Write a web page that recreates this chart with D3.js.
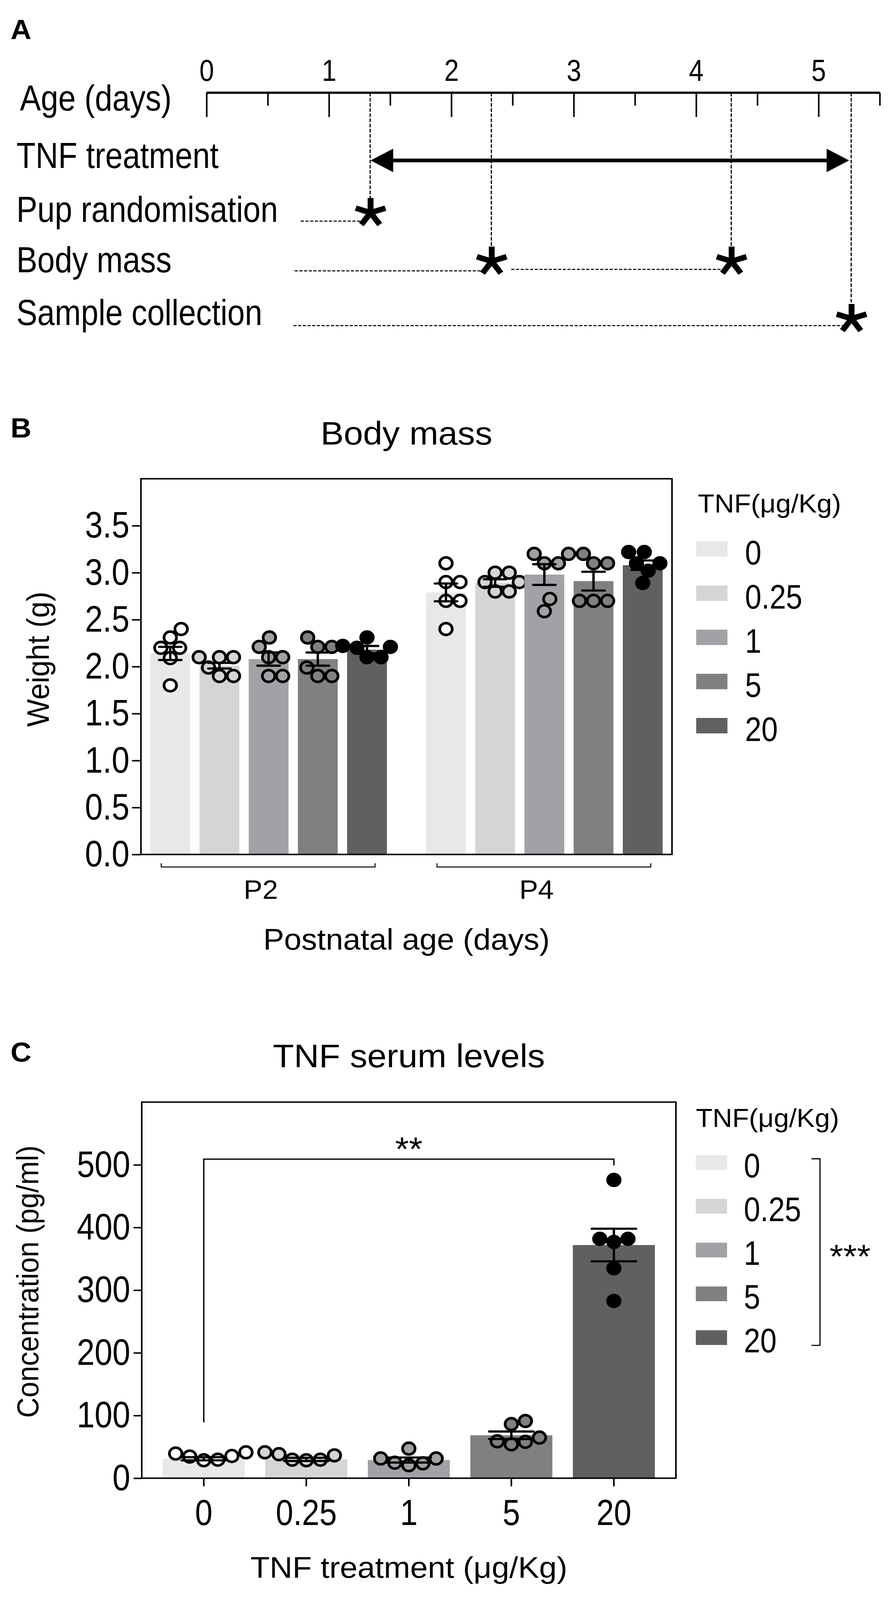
<!DOCTYPE html>
<html>
<head>
<meta charset="utf-8">
<script src="https://cdn.jsdelivr.net/npm/d3@7"></script>
<style>
  html, body { margin: 0; padding: 0; height: 100%; overflow: hidden; background: #fff; }
  #fig { display: block; width: 100vw; height: 100vh; }
</style>
</head>
<body>
<svg id="fig" viewBox="0 0 2287 4348" preserveAspectRatio="none"></svg>
<script>
// ---------- data: panel A (timeline, in days) ----------
const ageTicks = [0, 1, 2, 3, 4, 5];
const ageHalfTicks = [0.5, 1.5, 2.5, 3.5, 4.5, 5.5];
const timelineLabels = ["TNF treatment", "Pup randomisation", "Body mass", "Sample collection"];
const treatmentSpan = [1.34, 5.25];
const randomisationDays = [1.34];
const bodyMassDays = [2.33, 4.29];
const sampleDays = [5.27];
const leaderStartDays = [0.77, 0.72, 0.71];

// ---------- data: panel B (body mass, g) ----------
const doses = ["0", "0.25", "1", "5", "20"];
const ages = ["P2", "P4"];
const weightMeanP2 = [2.14, 2.01, 2.08, 2.08, 2.18];
const weightSemP2 = [0.07, 0.03, 0.07, 0.07, 0.04];
const weightMeanP4 = [2.79, 2.89, 2.98, 2.91, 3.08];
const weightSemP4 = [0.095, 0.04, 0.11, 0.10, 0.05];
const weightPointsP2 = [
  [2.40, 2.31, 2.20, 2.20, 2.09, 1.80],
  [2.10, 2.10, 2.10, 1.99, 1.90, 1.90],
  [2.31, 2.21, 2.10, 2.10, 1.90, 1.90],
  [2.31, 2.21, 2.21, 1.99, 1.90, 1.90],
  [2.31, 2.22, 2.21, 2.20, 2.10, 2.10]
];
const weightPointsP4 = [
  [3.10, 2.90, 2.90, 2.70, 2.70, 2.40],
  [3.00, 3.00, 2.90, 2.90, 2.80, 2.80],
  [3.20, 3.20, 3.10, 3.10, 2.72, 2.59],
  [3.20, 3.10, 3.10, 2.70, 2.70, 2.70],
  [3.22, 3.22, 3.10, 3.10, 3.02, 2.89]
];
const weightTicks = [0, 0.5, 1, 1.5, 2, 2.5, 3, 3.5];

// ---------- data: panel C (TNF serum, pg/ml) ----------
const serumMean = [31, 30, 29, 68.5, 372];
const serumSem = [2.5, 2.5, 4, 6, 26];
const serumPoints = [
  [29.5, 41.3, 34.5, 39.3, 28.6, 35.4],
  [29.5, 41.3, 29.5, 38.3, 28.6, 36.4],
  [23.7, 31.5, 47.2, 24.7, 31.5, 20.7],
  [54.0, 86.3, 64.8, 91.2, 58.0, 58.9],
  [475.8, 381.9, 381.9, 377.0, 334.9, 282.7]
];
const serumTicks = [0, 100, 200, 300, 400, 500];
const sigPair = ["0", "20"];
const sigLevels = [89, 509, 499]; // left foot, bar, right foot

const barColors = ["#e8e8e8", "#d5d5d5", "#a2a2a6", "#808080", "#606060"];
const dotColors = ["#ffffff", "#d5d5d5", "#a2a2a6", "#808080", "#000000"];

const svg = d3.select("#fig");

// pick a narrow sans; squeeze a regular one if the narrow face is missing
function probe(family) {
  const t = svg.append("text").attr("font-family", family).attr("font-size", 100).text("Postnatal age (days)");
  const w = t.node().getComputedTextLength();
  t.remove();
  return w;
}
const narrowOK = probe("'Liberation Sans Narrow', 'Liberation Sans'") < probe("'Liberation Sans'") * 0.92;
const narrow = narrowOK ? "'Liberation Sans Narrow', 'Liberation Sans', sans-serif" : "'Liberation Sans', sans-serif";
const squeeze = narrowOK ? 1 : 0.82;
const regular = "'Liberation Sans', Arial, sans-serif";

function label(parent, str, x, y, size, o = {}) {
  const sq = o.regular ? 1 : squeeze;
  return parent.append("text")
    .attr("transform", `translate(${x},${y})${o.rotate ? ` rotate(${o.rotate})` : ""} scale(${sq},1)`)
    .attr("font-family", o.regular ? regular : narrow)
    .attr("font-size", size)
    .attr("font-weight", o.weight || "normal")
    .attr("text-anchor", o.anchor || "start")
    .attr("fill", "#000")
    .text(str);
}

function styleAxis(g, size) {
  g.select(".domain").remove();
  g.selectAll(".tick line").attr("stroke", "#000").attr("stroke-width", 4);
  g.selectAll(".tick text")
    .attr("font-family", narrow)
    .attr("font-size", size)
    .attr("fill", "#000")
    .attr("transform", `scale(${squeeze},1)`);
}

// simple beeswarm: keep points near the centre, push sideways on overlap
function swarm(vals, y, minDist) {
  const order = d3.range(vals.length).sort((a, b) => vals[a] - vals[b]);
  const placed = [];
  const off = new Array(vals.length);
  for (const i of order) {
    const yi = y(vals[i]);
    let x = 0;
    for (let k = 0; k < 400; k++) {
      const c = k === 0 ? 0 : (k % 2 ? 1 : -1) * Math.ceil(k / 2) * 2;
      if (placed.every(p => Math.hypot(p.x - c, p.y - yi) >= minDist)) { x = c; break; }
    }
    off[i] = x;
    placed.push({x: x, y: yi});
  }
  return off;
}

// 5-armed asterisk with square-ended arms
function star(parent, cx, cy, len) {
  for (let k = 0; k < 5; k++) {
    const a = -Math.PI / 2 + k * 2 * Math.PI / 5;
    parent.append("line")
      .attr("x1", cx).attr("y1", cy)
      .attr("x2", cx + Math.cos(a) * len).attr("y2", cy + Math.sin(a) * len)
      .attr("stroke", "#000").attr("stroke-width", 15);
  }
}

function dots(parent, pts, cx, y, fill) {
  const off = swarm(pts, y, 36);
  parent.selectAll(null).data(pts).enter().append("circle")
    .attr("cx", (d, k) => cx + off[k])
    .attr("cy", d => y(d))
    .attr("r", 16)
    .attr("fill", fill)
    .attr("stroke", "#000").attr("stroke-width", 7);
}

function errorBar(parent, cx, y, m, s, cap) {
  parent.append("line").attr("x1", cx).attr("x2", cx)
    .attr("y1", y(m - s)).attr("y2", y(m + s))
    .attr("stroke", "#000").attr("stroke-width", 6);
  [m - s, m + s].forEach(v => parent.append("line")
    .attr("x1", cx - cap).attr("x2", cx + cap)
    .attr("y1", y(v)).attr("y2", y(v))
    .attr("stroke", "#000").attr("stroke-width", 6)
    .attr("stroke-linecap", "round"));
}

// ================= Panel A =================
const xA = d3.scaleLinear().domain([0, 5.5]).range([529, 2253]);
const axisY = 252;
const gA = svg.append("g");

label(svg, "A", 27, 106, 74, {weight: "bold", regular: true});
label(gA, "Age (days)", 51, 300, 98);

gA.append("line")
  .attr("x1", xA(0)).attr("x2", xA(5.5))
  .attr("y1", axisY).attr("y2", axisY)
  .attr("stroke", "#000").attr("stroke-width", 6);

gA.append("g").attr("transform", `translate(0,${axisY})`)
  .call(d3.axisBottom(xA).tickValues(ageTicks).tickSize(66).tickFormat(""))
  .call(g => styleAxis(g, 80));
gA.append("g").attr("transform", `translate(0,${axisY})`)
  .call(d3.axisBottom(xA).tickValues(ageHalfTicks).tickSize(35).tickFormat(""))
  .call(g => styleAxis(g, 80));
gA.append("g").attr("transform", `translate(0,${axisY})`)
  .call(d3.axisTop(xA).tickValues(ageTicks).tickSize(0).tickPadding(32).tickFormat(d3.format("d")))
  .call(g => styleAxis(g, 82));

const rowBaselines = [456, 603, 740, 883];
timelineLabels.forEach((t, i) => label(gA, t, 42, rowBaselines[i], 98));

// treatment arrow
const defs = svg.append("defs");
defs.append("marker")
  .attr("id", "head")
  .attr("markerUnits", "userSpaceOnUse")
  .attr("markerWidth", 58).attr("markerHeight", 64)
  .attr("refX", 58).attr("refY", 32)
  .attr("orient", "auto-start-reverse")
  .append("path").attr("d", "M0,0L58,32L0,64Z").attr("fill", "#000");
const arrowY = 436;
gA.append("line")
  .attr("x1", xA(treatmentSpan[0]) + 20).attr("x2", xA(treatmentSpan[1]) - 20)
  .attr("y1", arrowY).attr("y2", arrowY)
  .attr("stroke", "#000").attr("stroke-width", 10);
gA.append("line")
  .attr("x1", xA(treatmentSpan[0])).attr("x2", xA(treatmentSpan[0]) + 21)
  .attr("y1", arrowY).attr("y2", arrowY)
  .attr("stroke", "none")
  .attr("marker-start", "url(#head)");
gA.append("line")
  .attr("x1", xA(treatmentSpan[1]) - 21).attr("x2", xA(treatmentSpan[1]))
  .attr("y1", arrowY).attr("y2", arrowY)
  .attr("stroke", "none")
  .attr("marker-end", "url(#head)");

// starred rows
const starRows = [randomisationDays, bodyMassDays, sampleDays];
const starY = [578, 710, 866];
const leaderY = [601, 736, 885];
starRows.forEach((days, i) => {
  days.forEach((d, j) => {
    const from = j === 0 ? xA(leaderStartDays[i]) : xA(days[j - 1]) + 50;
    gA.append("line")
      .attr("x1", from).attr("x2", xA(d) - 18)
      .attr("y1", leaderY[i] - (j > 0 ? 4 : 0)).attr("y2", leaderY[i] - (j > 0 ? 4 : 0))
      .attr("stroke", "#000").attr("stroke-width", 3)
      .attr("stroke-dasharray", "8,4");
    gA.append("line")
      .attr("x1", xA(d) - 1).attr("x2", xA(d) - 1)
      .attr("y1", axisY).attr("y2", starY[i] - 38)
      .attr("stroke", "#000").attr("stroke-width", 3)
      .attr("stroke-dasharray", "10,4");
    star(gA, xA(d), starY[i], 40);
  });
});

// ================= Panel B =================
const gB = svg.append("g");
const B = {left: 361, right: 1721, top: 1301, bottom: 2322};
const yB = d3.scaleLinear().domain([0, 4]).range([B.bottom, B.top]);
const x0B = d3.scaleBand().domain(ages).range([B.left, B.right]).paddingInner(0.142).paddingOuter(0.034);
const x1B = d3.scaleBand().domain(doses).range([0, x0B.bandwidth()]).paddingInner(0.19).paddingOuter(0);

label(svg, "B", 27, 1189, 74, {weight: "bold", regular: true});
label(gB, "Body mass", (B.left + B.right) / 2, 1208, 89, {anchor: "middle", regular: true});

const weightMeans = [weightMeanP2, weightMeanP4];
const weightSems = [weightSemP2, weightSemP4];
const weightPoints = [weightPointsP2, weightPointsP4];

ages.forEach((age, a) => {
  doses.forEach((dose, i) => {
    const bx = x0B(age) + x1B(dose), bw = x1B.bandwidth(), cx = bx + bw / 2;
    const m = weightMeans[a][i], s = weightSems[a][i];
    gB.append("rect")
      .attr("x", bx).attr("y", yB(m))
      .attr("width", bw).attr("height", yB(0) - yB(m))
      .attr("fill", barColors[i]);
    dots(gB, weightPoints[a][i], cx, yB, dotColors[i]);
    errorBar(gB, cx, yB, m, s, bw * 0.28);
  });
  // group bracket under the axis
  const g0 = x0B(age) + x0B.bandwidth() * 0.046, g1 = x0B(age) + x0B.bandwidth() * 0.95;
  gB.append("path")
    .attr("d", `M${g0},2346V2356H${g1}V2346`)
    .attr("fill", "none").attr("stroke", "#000").attr("stroke-width", 2.5);
  label(gB, age, x0B(age) + x0B.bandwidth() / 2 - 20, 2443, 72, {anchor: "middle", regular: true});
});

gB.append("rect")
  .attr("x", B.left).attr("y", B.top)
  .attr("width", B.right - B.left).attr("height", B.bottom - B.top)
  .attr("fill", "none").attr("stroke", "#000").attr("stroke-width", 4);
gB.append("g").attr("transform", `translate(${B.left},0)`)
  .call(d3.axisLeft(yB).tickValues(weightTicks).tickFormat(d3.format(".1f")).tickSize(23).tickPadding(13))
  .call(g => styleAxis(g, 100));

label(gB, "Weight (g)", 125, (B.top + B.bottom) / 2 - 20, 80, {anchor: "middle", rotate: -90, regular: true});
label(gB, "Postnatal age (days)", (B.left + B.right) / 2, 2581, 80, {anchor: "middle", regular: true});

// legend B
label(gB, "TNF(μg/Kg)", 1787, 1393, 70, {regular: true});
doses.forEach((d, i) => {
  gB.append("rect").attr("x", 1783).attr("y", 1471 + i * 120).attr("width", 80).attr("height", 42).attr("fill", barColors[i]);
  label(gB, d, 1908, 1534 + i * 120, 92);
});

// ================= Panel C =================
const gC = svg.append("g");
const C = {left: 363, right: 1731, top: 2995, bottom: 4017};
const yC = d3.scaleLinear().domain([0, 600]).range([C.bottom, C.top]);
const xC = d3.scaleBand().domain(doses).range([C.left, C.right]).paddingInner(0.2).paddingOuter(0.205);

label(svg, "C", 27, 2885, 74, {weight: "bold", regular: true});
label(gC, "TNF serum levels", (C.left + C.right) / 2, 2900, 89, {anchor: "middle", regular: true});

doses.forEach((dose, i) => {
  const bx = xC(dose), bw = xC.bandwidth(), cx = bx + bw / 2;
  const m = serumMean[i], s = serumSem[i];
  gC.append("rect")
    .attr("x", bx).attr("y", yC(m))
    .attr("width", bw).attr("height", yC(0) - yC(m))
    .attr("fill", barColors[i]);
  dots(gC, serumPoints[i], cx, yC, dotColors[i]);
  errorBar(gC, cx, yC, m, s, bw * 0.27);
});

gC.append("rect")
  .attr("x", C.left).attr("y", C.top)
  .attr("width", C.right - C.left).attr("height", C.bottom - C.top)
  .attr("fill", "none").attr("stroke", "#000").attr("stroke-width", 4);
gC.append("g").attr("transform", `translate(${C.left},0)`)
  .call(d3.axisLeft(yC).tickValues(serumTicks).tickFormat(d3.format("d")).tickSize(21).tickPadding(15))
  .call(g => styleAxis(g, 100));
gC.append("g").attr("transform", `translate(0,${C.bottom})`)
  .call(d3.axisBottom(xC).tickSize(22).tickPadding(36))
  .call(g => styleAxis(g, 98));

label(gC, "Concentration (pg/ml)", 98, 3483, 77, {anchor: "middle", rotate: -90, regular: true});
label(gC, "TNF treatment (μg/Kg)", (C.left + C.right) / 2, 4287, 81, {anchor: "middle", regular: true});

// significance bracket 0 vs 20
const sx0 = xC(sigPair[0]) + xC.bandwidth() / 2, sx1 = xC(sigPair[1]) + xC.bandwidth() / 2;
gC.append("path")
  .attr("d", `M${sx0},${yC(sigLevels[0])}V${yC(sigLevels[1])}H${sx1}V${yC(sigLevels[2])}`)
  .attr("fill", "none").attr("stroke", "#000").attr("stroke-width", 3.5);
label(gC, "**", (sx0 + sx1) / 2, yC(sigLevels[1]) + 4, 90, {anchor: "middle", regular: true});

// legend C with trend bracket
label(gC, "TNF(μg/Kg)", 1782, 3063, 70, {regular: true});
doses.forEach((d, i) => {
  gC.append("rect").attr("x", 1782).attr("y", 3139 + i * 119).attr("width", 80).attr("height", 40).attr("fill", barColors[i]);
  label(gC, d, 1905, 3199 + i * 119, 92);
});
gC.append("path")
  .attr("d", "M2078,3149H2100V3656H2078")
  .attr("fill", "none").attr("stroke", "#000").attr("stroke-width", 3);
label(gC, "***", 2177, 3446, 90, {anchor: "middle", regular: true});
</script>
</body>
</html>
